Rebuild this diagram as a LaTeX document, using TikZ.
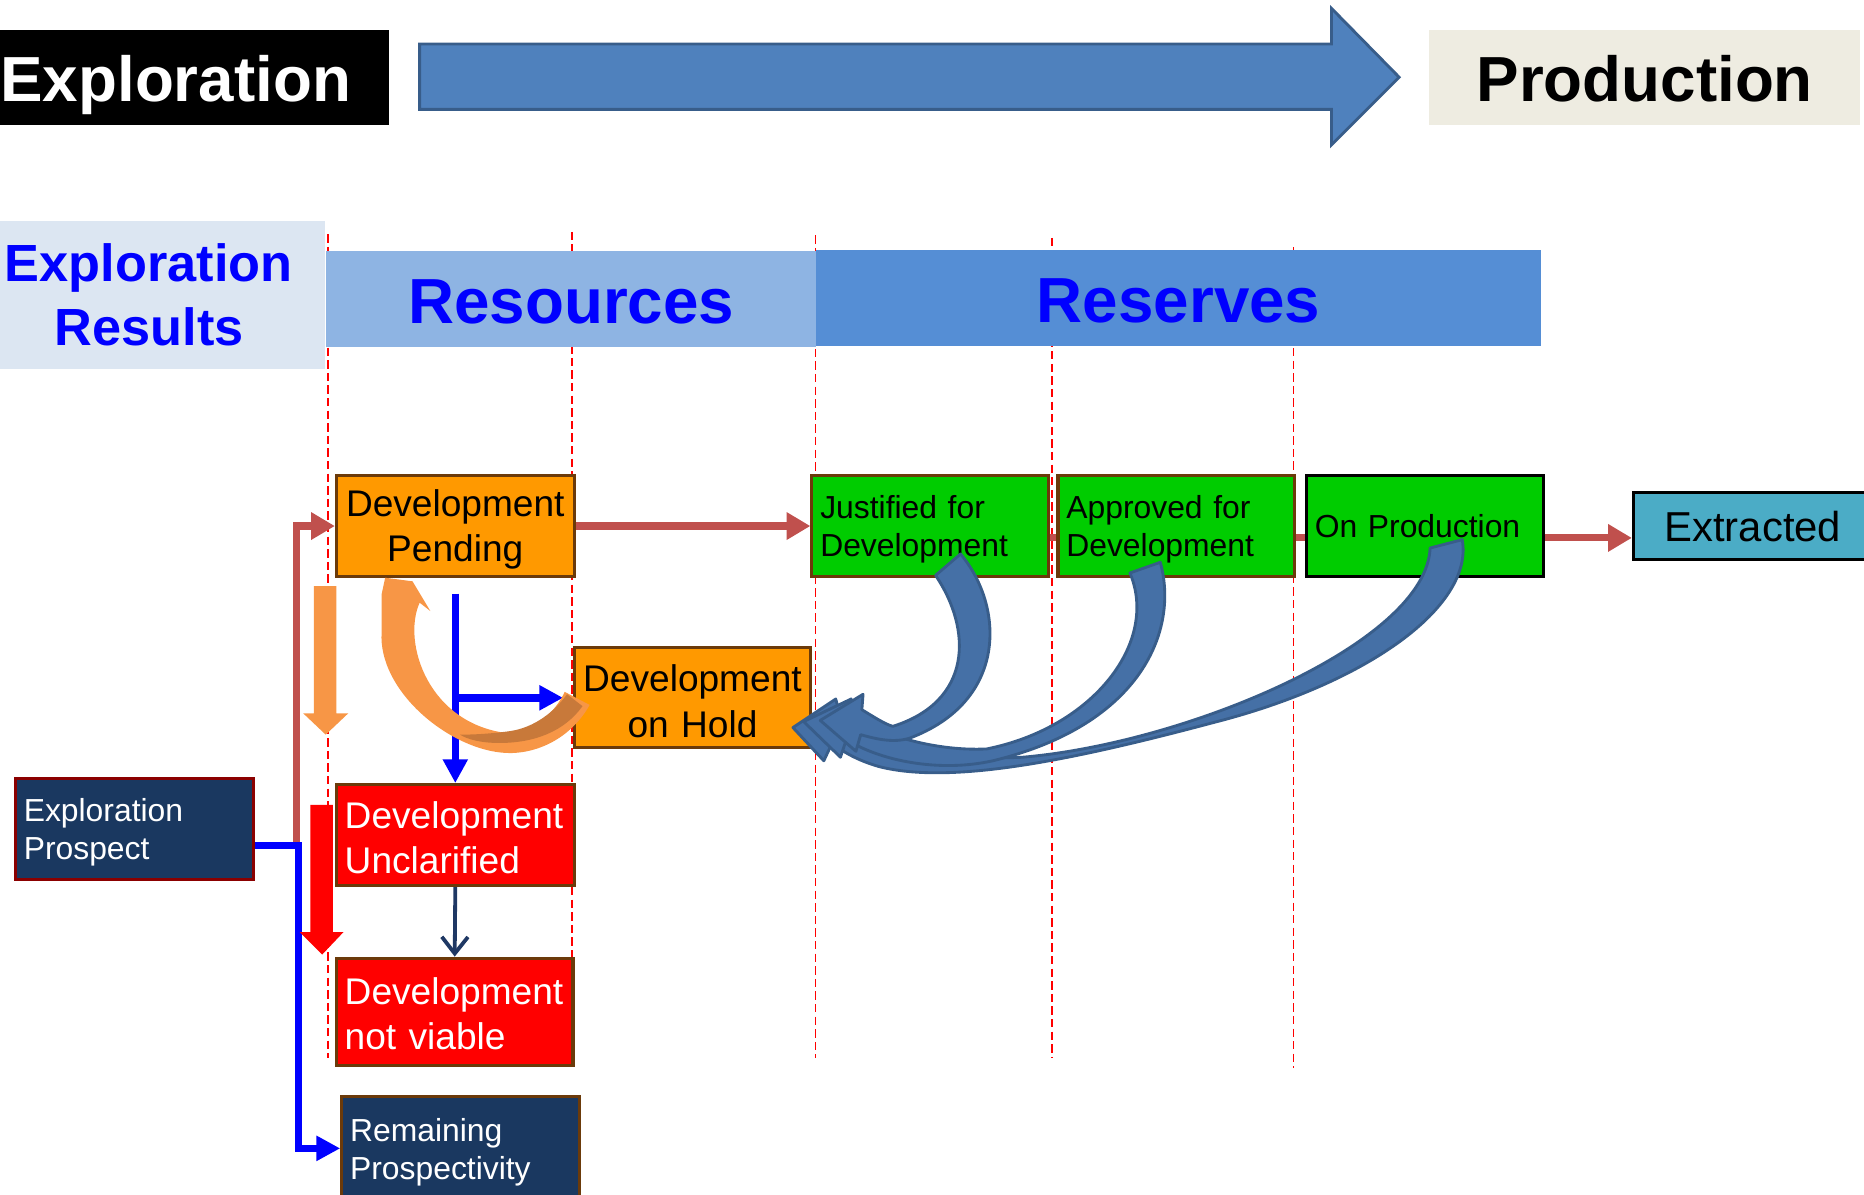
\documentclass[tikz,border=0pt]{standalone}
\usepackage{fontspec}
\setmainfont{Liberation Sans}
\usetikzlibrary{arrows.meta}
\definecolor{orangebox}{HTML}{FF9900}
\definecolor{brownb}{HTML}{6B3A0A}
\definecolor{greenbox}{HTML}{00CC00}
\definecolor{navybox}{HTML}{1A3860}
\definecolor{darkred}{HTML}{8B0000}
\definecolor{redbrown}{HTML}{C0504D}
\definecolor{bigblue}{HTML}{4F81BD}
\definecolor{bigblueb}{HTML}{385D8A}
\definecolor{beige}{HTML}{EEECE1}
\definecolor{lightbg}{HTML}{DCE6F2}
\definecolor{resbar}{HTML}{8EB4E3}
\definecolor{rsvbar}{HTML}{558ED5}
\definecolor{tealbox}{HTML}{4BACC6}
\definecolor{orangelt}{HTML}{F79646}
\definecolor{orangedk}{HTML}{C8793A}
\definecolor{curveblue}{HTML}{4570A6}
\definecolor{navyline}{HTML}{1F3864}
\definecolor{pureblue}{HTML}{0000FF}
\newcommand{\lowerstrut}[1]{\rule{0pt}{\dimexpr 0.716em+#1\relax}}
\begin{document}
\begin{tikzpicture}[x=0.5pt,y=-0.5pt,
  vline/.style={draw=red, line width=0.75pt, dash pattern=on 3.5pt off 1.8pt},
  box/.style={draw=brownb, line width=1.3pt, minimum height=42.5pt, inner ysep=0pt},
  fbig/.style={font=\fontsize{15.6pt}{19pt}\selectfont},
  fsmall/.style={font=\fontsize{13.4pt}{16pt}\selectfont},
  strutted/.style={execute at begin node={\lowerstrut{#1}}},
  obox/.style={box, fill=orangebox, align=center, inner xsep=0pt, text width=100pt, fbig, strutted=3pt},
  rbox/.style={box, fill=red, text=white, align=left, inner xsep=3.5pt, text width=93pt, fbig, strutted=2pt},
  gbox/.style={box, fill=greenbox, align=left, inner xsep=3.5pt, text width=92.5pt, fsmall},
  nbox/.style={box, fill=navybox, text=white, align=left, inner xsep=3.5pt, text width=93pt, fsmall, strutted=3pt},
  titlefont/.style={font=\bfseries\fontsize{26.8pt}{30pt}\selectfont},
  bluetitle/.style={text=pureblue, inner sep=0pt, anchor=base},
  rbconn/.style={draw=redbrown, line width=3pt, -{Triangle[length=10pt,width=11pt]}},
  rbline/.style={draw=redbrown, line width=3pt},
  blueconn/.style={draw=pureblue, line width=3pt, -{Triangle[length=10pt,width=10pt]}},
  navyconn/.style={draw=navyline, line width=1.6pt, -{Straight Barb[length=7pt,width=11pt,line width=1.6pt]}},
  curvearrow/.style={draw=bigblueb, fill=curveblue, line width=1.2pt, line join=round}
]
\useasboundingbox (0,0) rectangle (1568,1005);

% dashed phase separators
\draw[vline] (276,197) -- (276,890);
\draw[vline] (481,195) -- (481,895);
\draw[vline] (686,198) -- (686,890);
\draw[vline] (885,200) -- (885,890);
\draw[vline] (1088,208) -- (1088,898);

% top banner
\node[fill=black, minimum width=168.5pt, minimum height=40pt, inner sep=0pt] (tex) at (158.5,65) {};
\node[anchor=base west, text=white, titlefont, inner sep=0pt] (texl) at (0,85) {Exploration};
\draw[draw=bigblueb, fill=bigblue, line width=1.2pt, line join=miter]
  (353,37) -- (1120,37) -- (1120,7) -- (1177,65) -- (1120,122) -- (1120,92) -- (353,92) -- cycle;
\node[fill=beige, minimum width=181.5pt, minimum height=40pt, inner sep=0pt] (tpr) at (1383.5,65) {};
\node[anchor=base, text=black, titlefont, inner sep=0pt] (tprl) at (1383.5,85) {Production};

% header bars
\node[fill=lightbg, minimum width=149pt, minimum height=62pt, inner sep=0pt] (er) at (124,248) {};
\node[bluetitle, font=\bfseries\fontsize{22pt}{27pt}\selectfont] (er1) at (125,237) {Exploration};
\node[bluetitle, font=\bfseries\fontsize{22pt}{27pt}\selectfont] (er2) at (125.5,291) {Results};
\node[fill=resbar, minimum width=206pt, minimum height=40.5pt, inner sep=0pt] (resb) at (480,251.5) {};
\node[fill=rsvbar, minimum width=305pt, minimum height=40.5pt, inner sep=0pt] (rsvb) at (991,250.5) {};
\node[bluetitle, titlefont] (resl) at (480.5,272.5) {Resources};
\node[bluetitle, titlefont] (rsvl) at (991.5,271.5) {Reserves};

% boxes
\node[obox] (pend) at (383,442.5) {Development\\Pending};
\node[obox, text width=99.5pt, minimum height=42pt] (hold) at (582.5,587) {Development\\on Hold};
\node[rbox] (unc) at (383,702.5) {Development\\Unclarified};
\node[rbox, text width=92.5pt, minimum height=45pt] (nv) at (382.5,851) {Development\\not viable};
\node[gbox, strutted=3pt] (just) at (782.5,442.5) {Justified for\\Development};
\node[gbox, strutted=3pt] (appr) at (989.5,442.5) {Approved for\\Development};
\node[gbox, draw=black, strutted=0.5pt] (prod) at (1198.5,442.5) {On Production};
\node[box, draw=black, fill=tealbox, minimum width=100.5pt, minimum height=28.5pt,
      font=\fontsize{17.6pt}{20pt}\selectfont, strutted=1pt] (extr) at (1474.5,442.5) {Extracted};
\node[nbox, draw=darkred] (prosp) at (113,697.5) {Exploration\\Prospect};
\node[nbox, minimum height=44pt] (remain) at (387.5,966) {Remaining\\Prospectivity};

% straight connectors
\draw[rbconn] (pend.east) -- (just.west);
\draw[rbline] ([yshift=-5pt]just.east) -- ([yshift=-5pt]appr.west);
\draw[rbline] ([yshift=-5pt]appr.east) -- ([yshift=-5pt]prod.west);
\draw[rbconn] ([yshift=-5pt]prod.east) -- ([yshift=-5pt]extr.west);
\draw[rbconn] ([shift={(35,13.5)}]prosp.east) |- (pend.west);
\draw[blueconn] ([yshift=-6.75pt]prosp.east) -- ++(37,0) |- (remain.west);
\draw[blueconn, line width=3.2pt] ([yshift=-6.5pt]pend.south) -- (unc.north);
\draw[blueconn, line width=3.2pt, shorten >=4pt] (pend.south |- hold.west) -- (hold.west);
\draw[navyconn] (unc.south) -- (nv.north);

% block arrows
\fill[orangelt] (264,493) -- (283,493) -- (283,600) -- (293,600) -- (274,618) -- (255,600) -- (264,600) -- cycle;
\fill[red] (261,677) -- (280,677) -- (280,784) -- (289,784) -- (271,803) -- (252,784) -- (261,784) -- cycle;

% orange curved arrow (on hold -> pending)
\fill[orangelt] (353,507) .. controls (338,540) and (360,610) .. (429,617)
  .. controls (448,617) and (468,598) .. (475,582) -- (496,593)
  .. controls (478,625) and (445,636) .. (421,633)
  .. controls (375,628) and (318,580) .. (321,532) -- (321,500) -- (324,486) -- (347,489) -- (362,514) -- cycle;
\fill[orangedk] (490,594) .. controls (475,615) and (450,625) .. (420,625)
  .. controls (405,625) and (393,622) .. (387,618)
  .. controls (400,618) and (415,617) .. (429,615)
  .. controls (450,612) and (467,598) .. (477,584) -- cycle;

% blue curved arrows (reserves -> on hold)
\draw[curvearrow] (1230,454) .. controls (1240,510) and (1150,575) .. (1020,608)
  .. controls (900,640) and (800,660) .. (740,645)
  .. controls (722,640) and (708,632) .. (700,625) -- (693,640) -- (667,612) -- (703,588) -- (708,606)
  .. controls (740,625) and (800,640) .. (860,637)
  .. controls (1000,625) and (1200,540) .. (1203,461) -- cycle;
\draw[curvearrow] (976,473) .. controls (992,530) and (960,610) .. (835,640)
  .. controls (790,650) and (740,640) .. (712,622) -- (707,637) -- (676,607) -- (716,588) -- (718,603)
  .. controls (745,620) and (790,632) .. (830,630)
  .. controls (920,612) and (975,540) .. (950.5,482) -- cycle;
\draw[curvearrow] (808,466) .. controls (845,510) and (848,590) .. (765,621)
  .. controls (752,625) and (738,622) .. (724,618) -- (720,632) -- (690,606) -- (726,584) -- (725,597)
  .. controls (735,603) and (744,609) .. (751,611)
  .. controls (818,590) and (818,530) .. (787,484) -- cycle;
\end{tikzpicture}
\end{document}
